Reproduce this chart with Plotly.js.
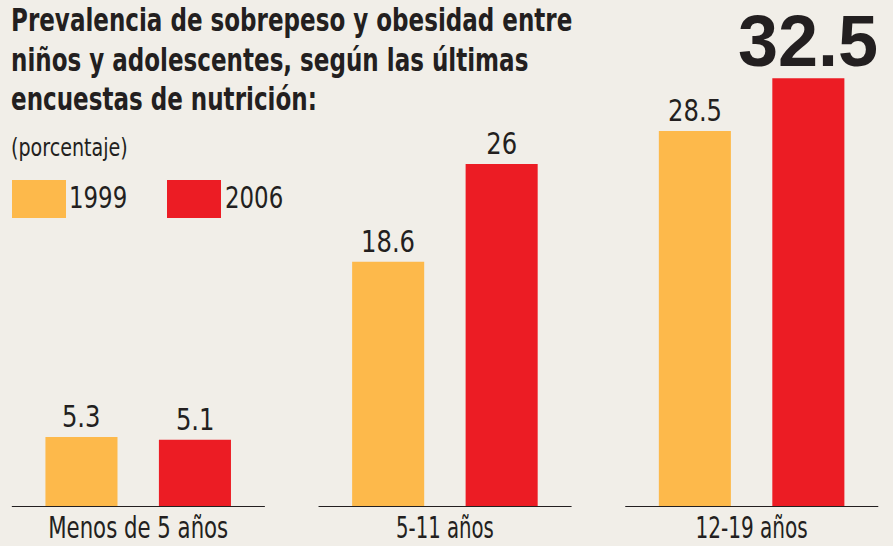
<!DOCTYPE html>
<html>
<head>
<meta charset="utf-8">
<script src="https://cdn.plot.ly/plotly-3.0.1.min.js"></script>
<style>
  html, body { margin: 0; padding: 0; background: #f1eee8; }
  #chart { width: 893px; height: 546px; }
</style>
</head>
<body>
<div id="chart"></div>
<script>
// ---- data ----
const categories = ['Menos de 5 años', '5-11 años', '12-19 años'];
const seriesNames = ['1999', '2006'];
const values1999 = [5.3, 18.6, 28.5];
const values2006 = [5.1, 26, 32.5];
const titleLines = [
  'Prevalencia de sobrepeso y obesidad entre',
  'niños y adolescentes, según las últimas',
  'encuestas de nutrición:'
];
const subtitle = '(porcentaje)';

// ---- style ----
const W = 893, H = 546;
const M = { l: 0, r: 0, t: 0, b: 39 };
const PH = H - M.t - M.b;
const COND = "'DejaVu Sans Condensed', 'DejaVu Sans', sans-serif";
const WIDE = "'Liberation Sans', Arial, sans-serif";
const INK = '#231f20';
const ORANGE = '#fdb94b';
const RED = '#ec1c24';
const BG = '#f1eee8';
const DESC = 0.236;           // DejaVu descent (em)
const tickSqueeze = [0.788, 0.73, 0.743];

const px = x => x / W;
const py = y => 1 - (y - M.t) / PH;

const allSeries = [values1999, values2006];
const colors = [ORANGE, RED];
const barShift = [-56.75, 56.75];

const traces = allSeries.map((vals, s) => ({
  type: 'bar', name: seriesNames[s], x: categories, y: vals,
  marker: { color: colors[s] }, hoverinfo: 'x+y', cliponaxis: false
}));

const shapes = [];
categories.forEach((c, i) => {
  shapes.push({ type: 'line', xref: 'x', yref: 'y', x0: i - 0.412, x1: i + 0.413, y0: 0, y1: 0,
    line: { color: INK, width: 2 } });
});
// legend swatches
shapes.push({ type: 'rect', xref: 'paper', yref: 'paper', x0: px(12), x1: px(66), y0: py(218), y1: py(180),
  fillcolor: ORANGE, line: { width: 0 } });
shapes.push({ type: 'rect', xref: 'paper', yref: 'paper', x0: px(167), x1: px(221), y0: py(218), y1: py(180),
  fillcolor: RED, line: { width: 0 } });

const annotations = [];
const squeeze = [];   // horizontal condensing factor per annotation
function addAnn(a, f) { annotations.push(a); squeeze.push(f); }

// title
const TS = 32;
const lineBaselines = [32, 72, 111];
titleLines.forEach((t, i) => {
  addAnn({ text: t, xref: 'paper', yref: 'paper', x: px(9), y: py(lineBaselines[i] + DESC * TS + 1),
    xanchor: 'left', yanchor: 'bottom', align: 'left', showarrow: false,
    font: { family: COND, size: TS, weight: 'bold', color: INK } }, 0.80);
});
// subtitle
addAnn({ text: subtitle, xref: 'paper', yref: 'paper', x: px(9), y: py(157 + DESC * 24 + 1),
  xanchor: 'left', yanchor: 'bottom', align: 'left', showarrow: false,
  font: { family: COND, size: 24, color: INK } }, 0.885);
// legend labels
[67, 223].forEach((lx, s) => {
  addAnn({ text: seriesNames[s], xref: 'paper', yref: 'paper', x: px(lx), y: py(209 + DESC * 31 + 1),
    xanchor: 'left', yanchor: 'bottom', align: 'left', showarrow: false,
    font: { family: COND, size: 31, color: INK } }, 0.82);
});
// value labels
const maxVal = Math.max(...values1999, ...values2006);
allSeries.forEach((vals, s) => {
  vals.forEach((v, j) => {
    const big = v === maxVal;
    addAnn({ text: String(v), xref: 'x', yref: 'y', x: categories[j], y: v,
      xshift: barShift[s], yshift: big ? -5 : 1,
      xanchor: 'center', yanchor: 'bottom', showarrow: false,
      font: big ? { family: WIDE, size: 72, weight: 'bold', color: INK }
                : { family: COND, size: 31, color: INK } }, big ? 1 : 0.87);
  });
});

const layout = {
  width: W, height: H,
  margin: M,
  paper_bgcolor: BG, plot_bgcolor: BG,
  showlegend: false,
  barmode: 'group', bargap: 0.26, bargroupgap: 0.365,
  xaxis: {
    type: 'category', range: [-0.4506, 2.461], showgrid: false, zeroline: false, showline: false,
    ticks: '', tickfont: { family: COND, size: 30, color: INK }, fixedrange: true
  },
  yaxis: {
    range: [0, PH / 13.19], visible: false, showgrid: false, zeroline: false, fixedrange: true
  },
  shapes: shapes,
  annotations: annotations
};

function condense(el, f) {
  if (!el || f === 1) return;
  const len = el.getComputedTextLength();
  el.setAttribute('textLength', (len * f).toFixed(2));
  el.setAttribute('lengthAdjust', 'spacingAndGlyphs');
}

Plotly.newPlot('chart', traces, layout, { displayModeBar: false, staticPlot: true }).then(gd => {
  gd.querySelectorAll('g.annotation').forEach(g => {
    const i = +g.getAttribute('data-index');
    condense(g.querySelector('text.annotation-text'), squeeze[i]);
  });
  gd.querySelectorAll('.xtick text').forEach(t => {
    const i = categories.indexOf(t.textContent);
    condense(t, i >= 0 ? tickSqueeze[i] : 0.7);
  });
});
</script>
</body>
</html>
